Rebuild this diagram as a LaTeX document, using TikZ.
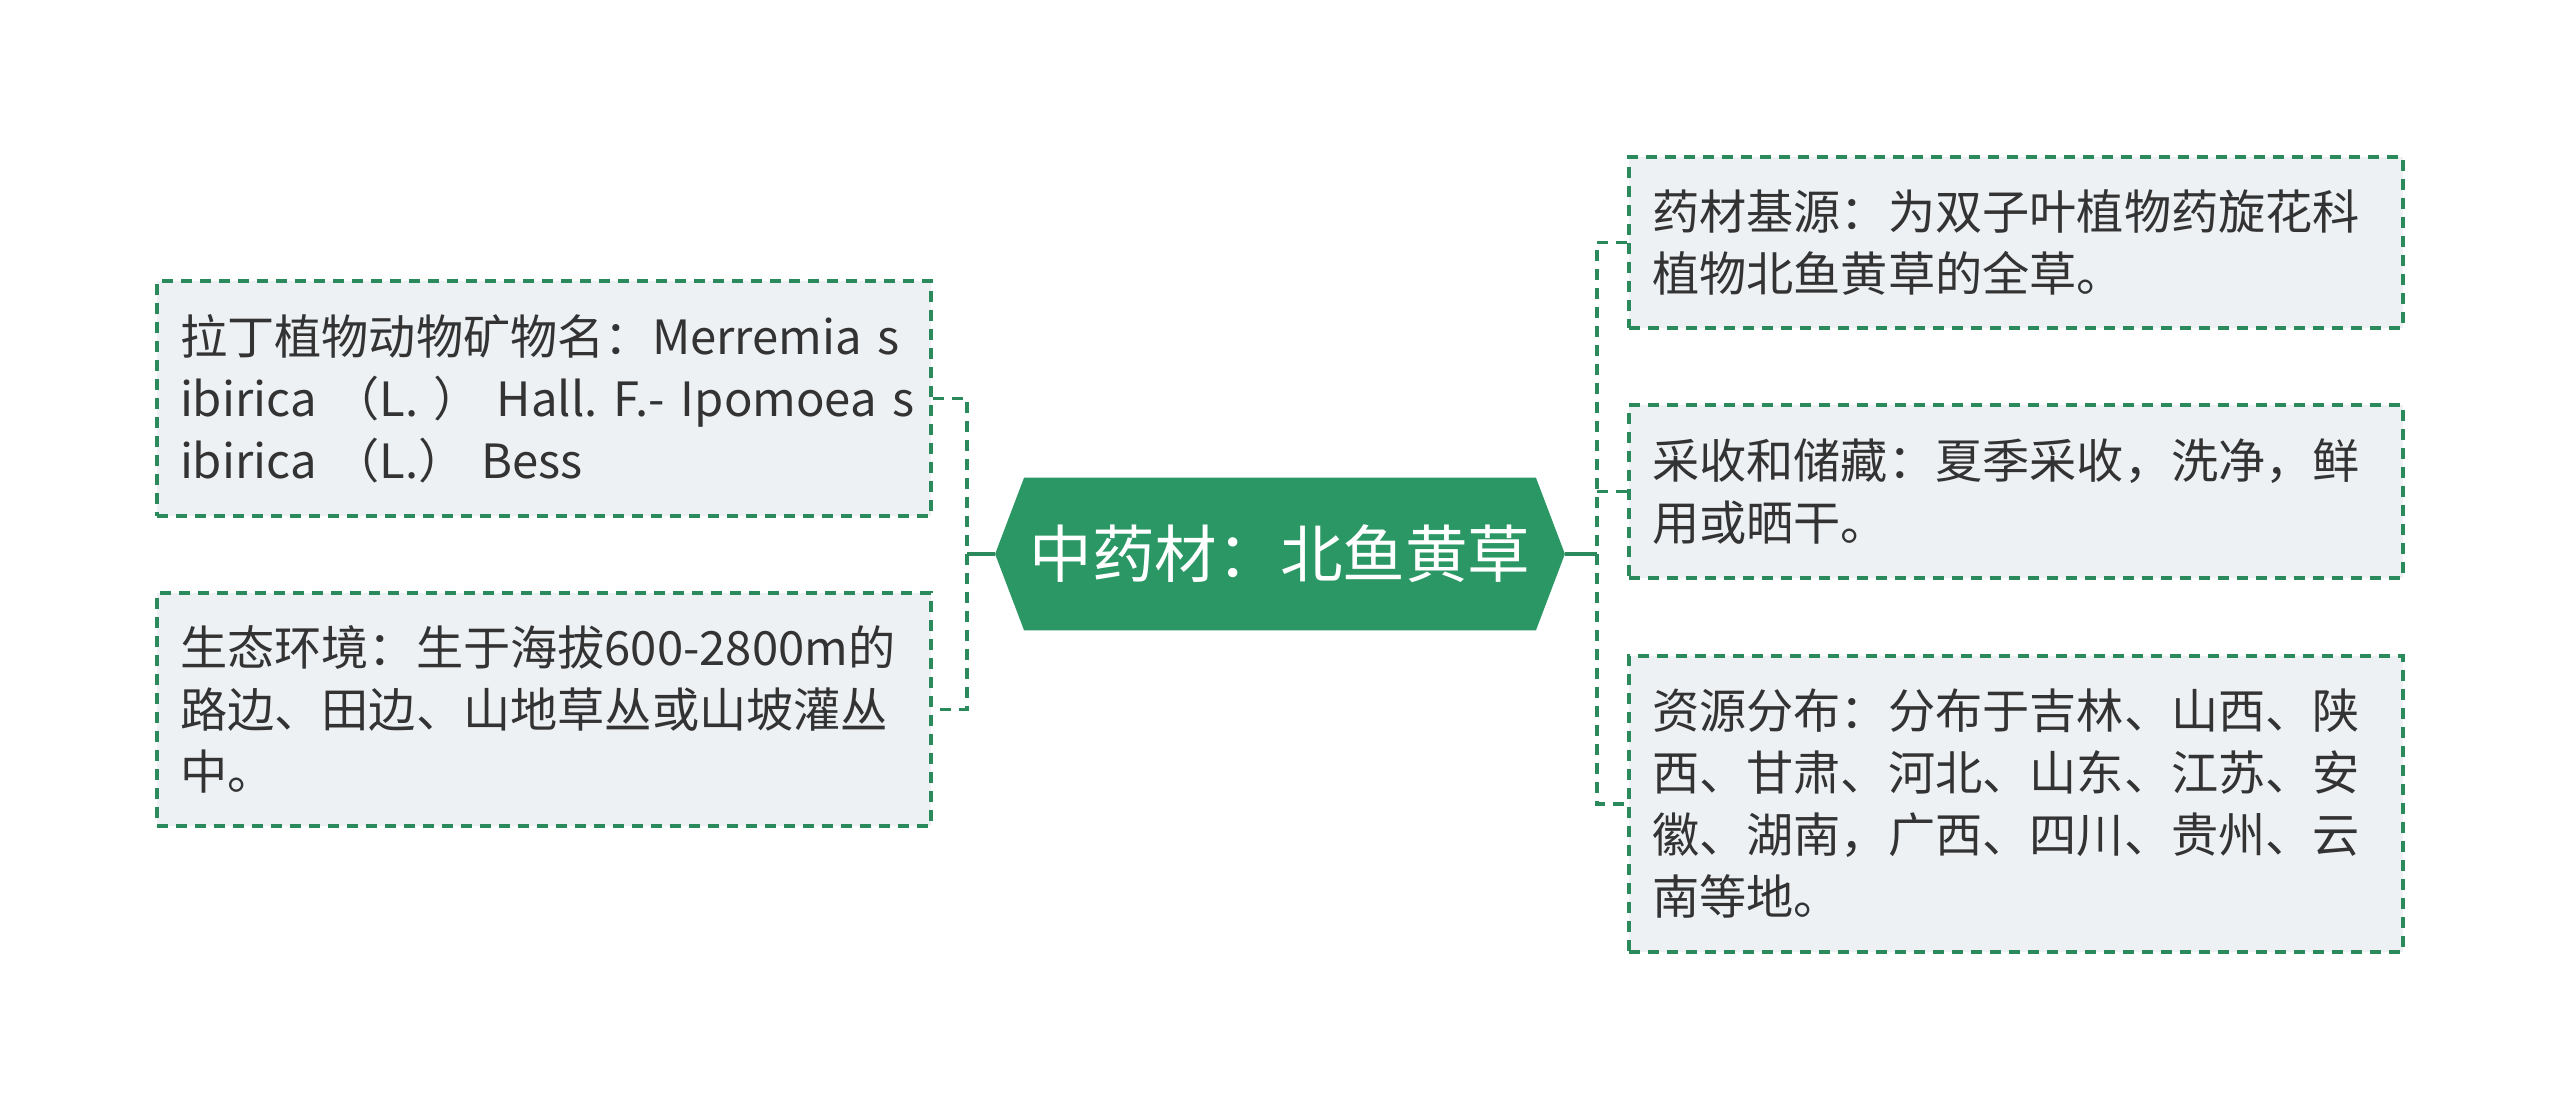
\documentclass[tikz,border=0pt]{standalone}
\usepackage{fontspec}
\setmainfont{Noto Sans CJK SC}
\usetikzlibrary{backgrounds,calc}
\definecolor{gborder}{HTML}{2B8A5C}
\definecolor{gfill}{HTML}{2A9764}
\definecolor{boxfill}{HTML}{EEF1F4}
\definecolor{txt}{HTML}{333333}
\newcommand\oneline[1]{\mbox{#1}}
\frenchspacing
\begin{document}
\begin{tikzpicture}[x=0.5pt,y=-0.5pt,
  leaf/.style={draw=gborder, fill=boxfill, line width=1.8pt, dash pattern=on 5.5pt off 4pt,
    text=txt, align=left, text width=364pt, inner xsep=11.5pt, inner ysep=0pt,
    font=\fontsize{23.6}{31}\selectfont, anchor=center},
  link/.style={draw=gborder, line width=1.8pt},
  dlink/.style={draw=gborder, line width=1.8pt, dash pattern=on 5.5pt off 4pt},
  hub/.style={text=white, font=\fontsize{31.3}{37}\selectfont, minimum width=255.5pt,
    minimum height=76pt, inner sep=0pt}]
\useasboundingbox (0,0) rectangle (2560,1108);

\node[hub] (c) at (1280,554) {中药材：北鱼黄草};
\begin{pgfonlayer}{background}
\fill[white] (0,0) rectangle (2560,1108);
\fill[gfill] (c.north west) -- (c.north east) -- ($(c.east)+(29,0)$) -- (c.south east)
  -- (c.south west) -- ($(c.west)+(-29,0)$) -- cycle;
\end{pgfonlayer}

\node[leaf, minimum height=117.5pt] (lb1) at (544,398.5)
  {\oneline{拉丁植物动物矿物名：Merremia s}\\\oneline{ibirica （L. ） Hall. F.- Ipomoea s}\\\oneline{ibirica （L.） Bess}};
\node[leaf, minimum height=116.5pt] (lb2) at (544,709.5)
  {\oneline{生态环境：生于海拔600-2800m的}\\\oneline{路边、田边、山地草丛或山坡灌丛}\\中。};
\node[leaf, minimum height=85.5pt] (rb1) at (2016,242.5)
  {\oneline{药材基源：为双子叶植物药旋花科}\\植物北鱼黄草的全草。};
\node[leaf, minimum height=86.5pt] (rb2) at (2016,491.5)
  {\oneline{采收和储藏：夏季采收，洗净，鲜}\\用或晒干。};
\node[leaf, minimum height=148pt] (rb3) at (2016,804)
  {\oneline{资源分布：分布于吉林、山西、陕}\\\oneline{西、甘肃、河北、山东、江苏、安}\\\oneline{徽、湖南，广西、四川、贵州、云}\\南等地。};

\coordinate (cl) at ($(c.west)+(-29,0)$);
\coordinate (cr) at ($(c.east)+(29,0)$);
\coordinate (jl) at (967,554);
\coordinate (jr) at (1597,554);

\draw[link] (cl) -- (jl);
\draw[link] (cr) -- (jr);
\draw[dlink] (lb1.east) -| (jl) |- (lb2.east);
\draw[dlink] (rb1.west) -| (jr) |- (rb3.west);
\draw[dlink] (rb2.west) -- (rb2.west -| jr);
\end{tikzpicture}
\end{document}
